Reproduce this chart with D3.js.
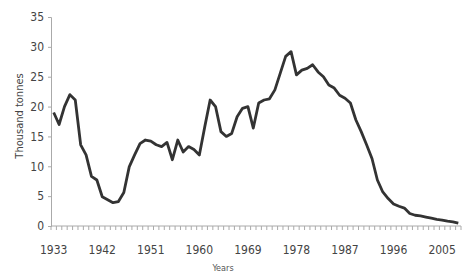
<!DOCTYPE html>
<html><head><meta charset="utf-8">
<script src="https://cdn.jsdelivr.net/npm/d3@7"></script>
<style>body{margin:0;background:#fff}svg{display:block}</style>
</head><body>
<svg id="c" width="463" height="276"></svg>
<script>
const years = d3.range(1933, 2009);
const values = [
  19, 17, 20, 22, 21.1, 13.6, 11.9, 8.3, 7.7, 4.9,
  4.4, 3.9, 4.1, 5.6, 9.9, 11.9, 13.8, 14.4, 14.2, 13.6,
  13.3, 14, 11.1, 14.4, 12.4, 13.3, 12.8, 11.9, 16.6, 21.1,
  20, 15.8, 15, 15.5, 18.3, 19.7, 20, 16.4, 20.6, 21.1,
  21.3, 22.8, 25.6, 28.4, 29.2, 25.3, 26.1, 26.4, 27, 25.8,
  25, 23.6, 23.1, 21.9, 21.4, 20.6, 17.8, 15.8, 13.6, 11.3,
  7.7, 5.7, 4.6, 3.7, 3.3, 3.0, 2.1, 1.8, 1.7, 1.5,
  1.3, 1.1, 1.0, 0.8, 0.7, 0.5
];
const yTicks = [0, 5, 10, 15, 20, 25, 30, 35];
const xLabels = [1933, 1942, 1951, 1960, 1969, 1978, 1987, 1996, 2005];

(function () {
const svg = d3.select("#c");
const mL = 51, mR = 461, mT = 17, mB = 226;
const font = "'Liberation Sans Narrow','DejaVu Sans Condensed','Liberation Sans',sans-serif";

const xb = d3.scaleBand().domain(years).range([mL, mR]);
const x = d => xb(d) + xb.bandwidth() / 2;
const y = d3.scaleLinear().domain([0, 35]).range([mB, mT]);

// y axis
const ya = svg.append("g").attr("transform", `translate(${mL},0)`)
  .call(d3.axisLeft(y).tickValues(yTicks).tickSize(3).tickPadding(4));
ya.select(".domain").attr("stroke", "#aaa");
ya.selectAll(".tick line").attr("stroke", "#aaa");
ya.selectAll("text").attr("font-family", font).attr("font-size", 12).attr("fill", "#444");

// x axis: ticks at every category boundary
const xa = svg.append("g").attr("transform", `translate(0,${mB})`);
xa.append("line").attr("x1", mL).attr("x2", mR).attr("stroke", "#aaa");
const bounds = years.map(d => xb(d)).concat([mR]);
xa.selectAll("line.t").data(bounds).join("line").attr("class", "t")
  .attr("x1", d => d).attr("x2", d => d)
  .attr("y1", 0).attr("y2", 4).attr("stroke", "#aaa");
xa.selectAll("text").data(xLabels).join("text")
  .attr("x", d => x(d)).attr("y", 28).attr("text-anchor", "middle")
  .attr("font-family", font).attr("font-size", 12).attr("fill", "#444").text(d => d);

// line
svg.append("path").datum(values)
  .attr("fill", "none").attr("stroke", "#333").attr("stroke-width", 2.8)
  .attr("stroke-linejoin", "round")
  .attr("d", d3.line().x((d, i) => x(years[i])).y(d => y(d)));

// titles
svg.append("text").attr("transform", "translate(23,116) rotate(-90)")
  .attr("text-anchor", "middle").attr("font-family", font).attr("font-size", 11)
  .attr("fill", "#444").text("Thousand tonnes");
svg.append("text").attr("x", 223).attr("y", 271).attr("text-anchor", "middle")
  .attr("font-family", font).attr("font-size", 9).attr("fill", "#555").text("Years");
})();
</script>
</body></html>
